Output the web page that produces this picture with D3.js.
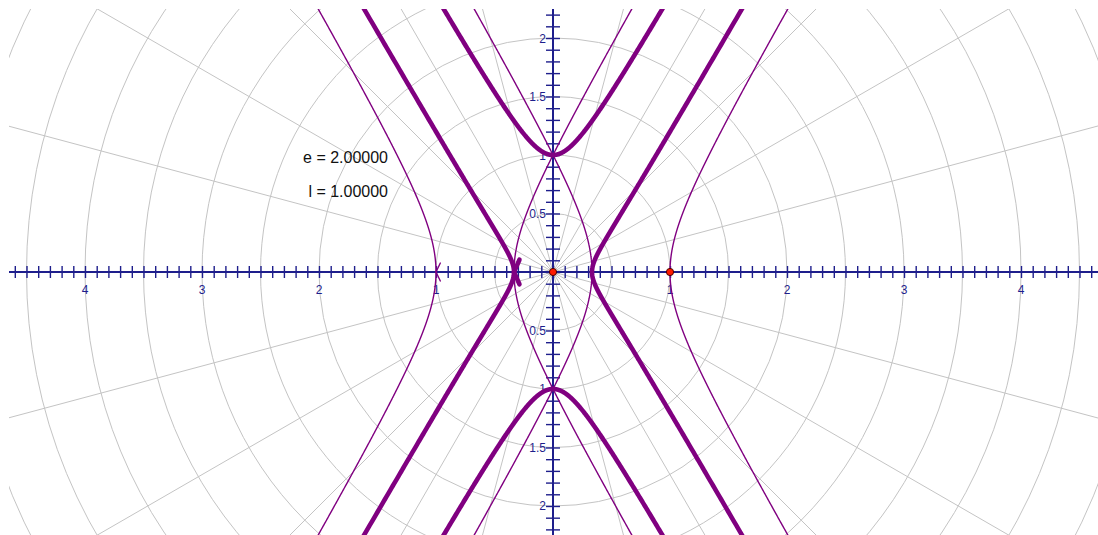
<!DOCTYPE html>
<html>
<head>
<meta charset="utf-8">
<script src="https://cdn.jsdelivr.net/npm/d3@7/dist/d3.min.js"></script>
<style>
  html, body { margin: 0; padding: 0; background: #fff; }
  svg { display: block; }
  text { font-family: "Liberation Sans", Arial, sans-serif; }
</style>
</head>
<body>
<svg id="chart" width="1098" height="535"></svg>
<script>
// Conic parameters shown on the sketch
const eccentricity = 2.0;
const semiLatus = 1.0;
const paramLabels = ["e = 2.00000", "l = 1.00000"];

// Polar grid: ring radii and spoke angles (degrees)
const ringRadii = [0.5, 1, 1.5, 2, 2.5, 3, 3.5, 4, 4.5, 5, 5.5, 6];
const spokeAngles = [0, 15, 30, 45, 60, 75, 90, 105, 120, 135, 150, 165,
                     180, 195, 210, 225, 240, 255, 270, 285, 300, 315, 330, 345];

// Axis labels
const xLabelValues = [-4, -3, -2, -1, 1, 2, 3, 4];
const yLabelValues = [-2, -1.5, -1, -0.5, 0.5, 1, 1.5, 2];

// Marked points: the pole and the point (1, 0)
const markedPoints = [[0, 0], [1, 0]];

// Where the traced loci overshoot their vertex: curve (k, sign), vertex angle,
// angle offset of the chord used for the overshoot direction, overshoot length
const overshoots = [
  { k: 2, sign: 1, at: Math.PI, off: 0.6, len: 0.115, width: 4.6 },
  { k: 1, sign: -1, at: 0, off: 0.9, len: 0.085, width: 1.4 }
];

const W = 1098, H = 535;
const view = { left: 9, top: 9, right: 1098, bottom: 535 };

const x = d3.scaleLinear().domain([-4.6496, 4.6581]).range([view.left, view.right]);
const y = d3.scaleLinear().domain([2.248, -2.248]).range([view.top, view.bottom]);

const svg = d3.select("#chart");
svg.append("rect").attr("width", W).attr("height", H).attr("fill", "#fff");

svg.append("defs").append("clipPath").attr("id", "plotClip")
  .append("rect")
  .attr("x", view.left).attr("y", view.top)
  .attr("width", view.right - view.left).attr("height", view.bottom - view.top);

const plot = svg.append("g").attr("clip-path", "url(#plotClip)");

// ---- polar grid ----
const grid = plot.append("g").attr("fill", "none").attr("stroke", "#c4c4c4").attr("stroke-width", 1);
grid.selectAll("circle").data(ringRadii).join("circle")
  .attr("cx", x(0)).attr("cy", y(0))
  .attr("r", d => x(d) - x(0));
const spokeLen = 7;
grid.selectAll("line").data(spokeAngles).join("line")
  .attr("x1", x(0)).attr("y1", y(0))
  .attr("x2", d => x(spokeLen * Math.cos(d * Math.PI / 180)))
  .attr("y2", d => y(spokeLen * Math.sin(d * Math.PI / 180)));

// ---- axes ----
const axisColor = "#1e1e8c";
const xTicks = d3.range(-46, 47).map(i => i / 10);
const yTicks = d3.range(-22, 23).map(i => i / 10);

const xAxis = d3.axisBottom(x).tickValues(xTicks).tickSize(6).tickFormat(() => "");
const gx = plot.append("g").attr("transform", `translate(0,${y(0)})`).call(xAxis);
gx.select(".domain").remove();
gx.selectAll(".tick line").attr("y1", -6).attr("y2", 6)
  .attr("stroke", axisColor).attr("stroke-width", 1.4);
gx.append("line").attr("x1", view.left).attr("x2", view.right).attr("y1", 0).attr("y2", 0)
  .attr("stroke", axisColor).attr("stroke-width", 2);

const yAxis = d3.axisLeft(y).tickValues(yTicks).tickSize(7).tickFormat(() => "");
const gy = plot.append("g").attr("transform", `translate(${x(0)},0)`).call(yAxis);
gy.select(".domain").remove();
gy.selectAll(".tick line").attr("x1", -7).attr("x2", 7)
  .attr("stroke", axisColor).attr("stroke-width", 1.4);
gy.append("line").attr("x1", 0).attr("x2", 0).attr("y1", view.top).attr("y2", view.bottom)
  .attr("stroke", axisColor).attr("stroke-width", 2);

const fmt = v => String(Math.abs(v));
plot.append("g").selectAll("text").data(xLabelValues).join("text")
  .attr("x", d => x(d)).attr("y", y(0) + 22)
  .attr("text-anchor", "middle").attr("font-size", 12).attr("fill", axisColor)
  .text(fmt);
plot.append("g").selectAll("text").data(yLabelValues).join("text")
  .attr("x", x(0) - 7).attr("y", d => y(d) + 4.5)
  .attr("text-anchor", "end").attr("font-size", 12).attr("fill", axisColor)
  .text(fmt);

// ---- conic curves r = l / (1 + s * e * cos(k * theta)) ----
function polarPoint(k, sign, t) {
  const r = semiLatus / (1 + sign * eccentricity * Math.cos(k * t));
  return [r * Math.cos(t), r * Math.sin(t)];
}

function polarBranches(k, sign) {
  const n = 6000, branches = [];
  let cur = [];
  for (let i = 0; i <= n; i++) {
    const t = (i / n) * 2 * Math.PI;
    const den = 1 + sign * eccentricity * Math.cos(k * t);
    const [px, py] = polarPoint(k, sign, t);
    if (Math.abs(den) < 1e-4 || Math.abs(px) > 12 || Math.abs(py) > 12) {
      if (cur.length > 1) branches.push(cur);
      cur = [];
      continue;
    }
    if (cur.length) {
      const [qx, qy] = cur[cur.length - 1];
      if (Math.hypot(px - qx, py - qy) > 1) { if (cur.length > 1) branches.push(cur); cur = []; }
    }
    cur.push([px, py]);
  }
  if (cur.length > 1) branches.push(cur);
  return branches;
}

const line = d3.line().x(d => x(d[0])).y(d => y(d[1]));
const curveColor = "#800080";

const thin = [...polarBranches(1, 1), ...polarBranches(1, -1)];
const thick = polarBranches(2, 1);

plot.append("g").selectAll("path").data(thin).join("path")
  .attr("d", line).attr("fill", "none")
  .attr("stroke", curveColor).attr("stroke-width", 1.4);
plot.append("g").selectAll("path").data(thick).join("path")
  .attr("d", line).attr("fill", "none")
  .attr("stroke", curveColor).attr("stroke-width", 4.6).attr("stroke-linejoin", "round");

// short overshoot strokes past a vertex, one from each half of the branch
const stubs = [];
overshoots.forEach(o => {
  const v = polarPoint(o.k, o.sign, o.at);
  [-1, 1].forEach(s => {
    const p = polarPoint(o.k, o.sign, o.at + s * o.off);
    const dx = v[0] - p[0], dy = v[1] - p[1], m = Math.hypot(dx, dy);
    stubs.push({ pts: [v, [v[0] + dx / m * o.len, v[1] + dy / m * o.len]], width: o.width });
  });
});
plot.append("g").selectAll("path").data(stubs).join("path")
  .attr("d", d => line(d.pts)).attr("fill", "none")
  .attr("stroke", curveColor).attr("stroke-width", d => d.width).attr("stroke-linecap", "round");

// ---- marked points ----
plot.append("g").selectAll("circle").data(markedPoints).join("circle")
  .attr("cx", d => x(d[0])).attr("cy", d => y(d[1])).attr("r", 3.6)
  .attr("fill", "#ff1a00").attr("stroke", "#4a0000").attr("stroke-width", 1);

// ---- parameter readout ----
svg.append("g").selectAll("text").data(paramLabels).join("text")
  .attr("x", 388).attr("y", (d, i) => 163 + i * 34)
  .attr("text-anchor", "end").attr("font-size", 16).attr("fill", "#111")
  .text(d => d);
</script>
</body>
</html>
